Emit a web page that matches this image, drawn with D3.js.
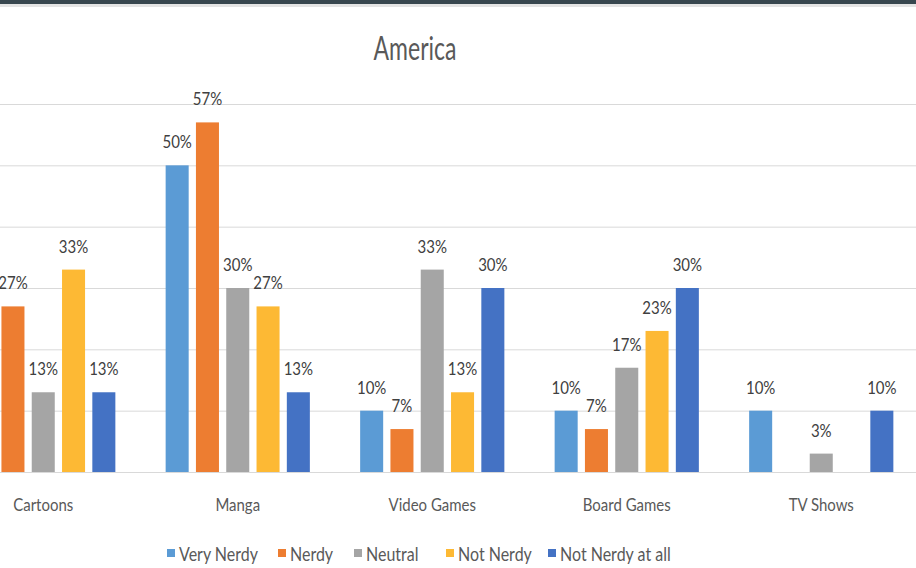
<!DOCTYPE html>
<html>
<head>
<meta charset="utf-8">
<script src="https://cdn.jsdelivr.net/npm/d3@7"></script>
<style>
  html, body { margin: 0; padding: 0; background: #ffffff; }
  svg { display: block; }
  text { font-family: Lato, "Open Sans", sans-serif; }
</style>
</head>
<body>
<svg id="chart" width="916" height="568"></svg>
<script>
// Survey results: share of respondents per media category, by self-rated nerdiness
const categories = ["Cartoons", "Manga", "Video Games", "Board Games", "TV Shows"];
const seriesNames = ["Very Nerdy", "Nerdy", "Neutral", "Not Nerdy", "Not Nerdy at all"];
const veryNerdy     = [20, 50, 10, 10, 10];
const nerdy         = [27, 57, 7, 7, null];
const neutral       = [13, 30, 33, 17, 3];
const notNerdy      = [33, 27, 13, 23, null];
const notNerdyAtAll = [13, 13, 30, 30, 10];
const yTicks = [0, 10, 20, 30, 40, 50, 60];
const seriesColors = ["#5B9BD5", "#ED7D31", "#A5A5A5", "#FDB934", "#4472C4"];

const seriesValues = [veryNerdy, nerdy, neutral, notNerdy, notNerdyAtAll];
const rows = categories.map((c, i) => ({
  category: c,
  values: seriesNames.map((s, j) => ({ series: s, index: j, value: seriesValues[j][i] }))
}));

const svg = d3.select("#chart");
const W = 916, H = 568;

// window chrome strip along the top edge
svg.append("rect").attr("x", 0).attr("y", 0).attr("width", W).attr("height", 4).attr("fill", "#38474f");
svg.append("rect").attr("x", 0).attr("y", 4).attr("width", W).attr("height", 3).attr("fill", "#e4e4e4");

const plotLeft = -54, plotRight = 918.5;
const x0 = d3.scaleBand().domain(categories).range([plotLeft, plotRight]).paddingInner(0).paddingOuter(0);
const x1 = d3.scaleBand().domain(seriesNames).range([0, x0.bandwidth()]).paddingInner(0.24).paddingOuter(0.83);
const y = d3.scaleLinear().domain([0, 60]).range([472, 104]);

// horizontal gridlines
const grid = d3.axisLeft(y).tickValues(yTicks).tickSize(-(W + 10)).tickFormat("");
svg.append("g")
  .attr("transform", "translate(" + (W + 5) + ",0) scale(-1,1)")
  .call(grid)
  .call(g => g.select(".domain").remove())
  .call(g => g.selectAll(".tick line").attr("stroke", "#d9d9d9").attr("stroke-width", 1));

// bars
const groups = svg.append("g").selectAll("g")
  .data(rows).join("g")
  .attr("transform", d => "translate(" + x0(d.category) + ",0)");

groups.selectAll("rect")
  .data(d => d.values.filter(v => v.value != null))
  .join("rect")
  .attr("x", d => x1(d.series))
  .attr("width", x1.bandwidth())
  .attr("y", d => y(d.value))
  .attr("height", d => y(0) - y(d.value))
  .attr("fill", d => seriesColors[d.index]);

// value labels
groups.selectAll("text")
  .data(d => d.values.filter(v => v.value != null))
  .join("text")
  .attr("transform", d => "translate(" + (x1(d.series) + x1.bandwidth() / 2) + "," + (y(d.value) - 17) + ") scale(1,1.12)")
  .attr("text-anchor", "middle")
  .attr("font-size", 15)
  .attr("fill", "#404040")
  .text(d => d.value + "%");

// category axis labels
const xAxis = d3.axisBottom(x0).tickSize(0).tickPadding(0);
const xg = svg.append("g").attr("transform", "translate(0,472)").call(xAxis);
xg.select(".domain").remove();
xg.selectAll(".tick text")
  .attr("y", 0).attr("dy", null)
  .attr("transform", "translate(0,39) scale(1,1.2)")
  .attr("font-size", 15)
  .attr("font-family", "Lato, 'Open Sans', sans-serif")
  .attr("fill", "#595959");

// title
svg.append("text")
  .attr("transform", "translate(415,60) scale(1,1.4)")
  .attr("text-anchor", "middle")
  .attr("font-size", 23)
  .attr("fill", "#595959")
  .text("America");

// legend
const legendX = [167, 278, 354, 446, 548];
const legend = svg.append("g").selectAll("g")
  .data(seriesNames).join("g")
  .attr("transform", (d, i) => "translate(" + legendX[i] + ",549)");
legend.append("rect")
  .attr("width", 8).attr("height", 8)
  .attr("fill", (d, i) => seriesColors[i]);
legend.append("text")
  .attr("transform", "translate(12,12) scale(1,1.15)")
  .attr("font-size", 16)
  .attr("fill", "#595959")
  .text(d => d);
</script>
</body>
</html>
